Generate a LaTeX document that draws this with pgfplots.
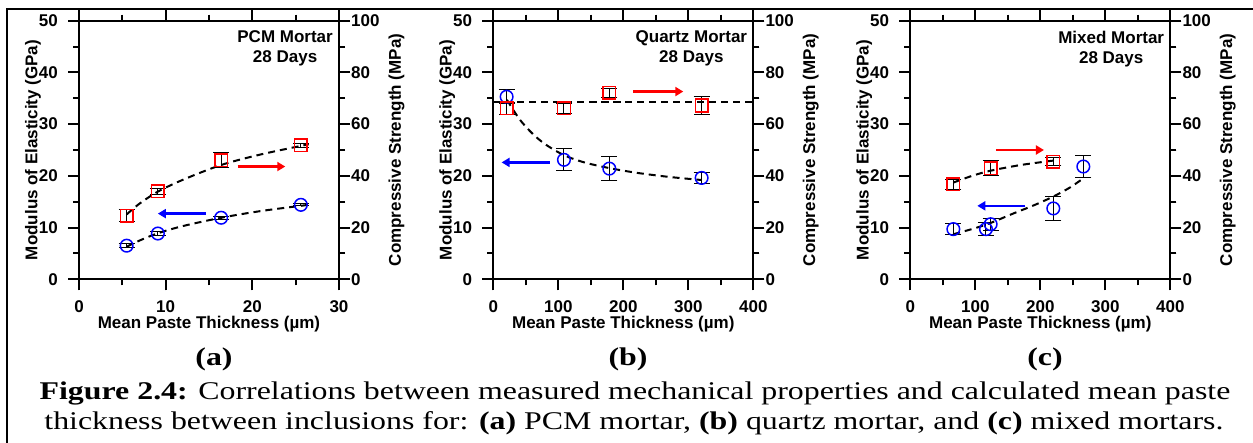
\documentclass[border=0pt]{standalone}
\usepackage{fontspec}
\setmainfont{Liberation Sans}
\newfontfamily\capfont{Liberation Serif}
\usepackage{graphicx}
\usepackage{pgfplots}
\usepackage{pgfplotstable}
\pgfplotsset{compat=1.18}
\usetikzlibrary{arrows.meta}

\definecolor{mblue}{RGB}{0,0,255}
\definecolor{mred}{RGB}{255,0,0}
\newcommand\notefont{\fontsize{17}{20}\selectfont\bfseries}
\newcommand\capsize{\fontsize{25.5}{30}\selectfont}
% caption text is set wide
\newcommand\wide[1]{\scalebox{1.25}[1]{#1}}

% ---- measured data: x = mean paste thickness (um), y = value, e = error ----
\pgfplotstableread{
x     y     e
5.5   6.5   0.4
9.1   8.85  0.3
16.4  11.9  0.3
25.6  14.4  0.2
}\modA
\pgfplotstableread{
x     y     e
5.5   24.6  2.2
9.1   34.0  1.3
16.4  46.1  2.9
25.6  51.8  0.8
}\compA
\pgfplotstableread{
x      y     e
20.5   35.3  1.35
108.7  23.1  2.15
178.5  21.4  2.25
320.5  19.6  1.1
}\modB
\pgfplotstableread{
x      y     e
20.5   66.1  2.3
108.7  66.1  1.9
178.5  72.1  1.7
320.5  67.2  3.3
}\compB
\pgfplotstableread{
x      y     e
66.2   9.7   1.1
116.4  9.7   1.3
123.6  10.65 1.15
220.0  13.7  2.25
266.2  21.8  2.1
}\modC
\pgfplotstableread{
x      y     e
66.2   36.8  1.9
123.6  43.0  2.9
220.0  45.5  1.6
}\compC

\tikzset{
  pointer/.style={line width=2.5pt, -{Triangle[length=8pt,width=9pt]}},
}

\pgfplotsset{
  panel/.style={
    scale only axis, width=260pt, height=258.6pt, anchor=south west,
    axis line style={line width=2pt},
    every tick/.append style={black, line width=2pt},
    tick align=outside,
    major tick length=11pt, minor tick length=6pt,
    /pgf/number format/assume math mode=true,
    tick label style={font=\fontsize{17}{19}\selectfont\bfseries, inner sep=2pt},
    label style={font=\fontsize{17}{19}\selectfont\bfseries},
    ymin=0, ymax=50, ytick={0,10,...,50}, minor y tick num=1,
  },
  leftpanel/.style={
    panel,
    xlabel={Mean Paste Thickness (µm)},
    ylabel={Modulus of Elasticity (GPa)},
    xlabel style={at={(axis description cs:0.5,-0.174)}, anchor=center},
    ylabel style={at={(axis description cs:-0.177,0.5)}, anchor=center},
    xticklabel style={yshift=-8pt},
    yticklabel style={xshift=-8pt},
  },
  rightpanel/.style={
    panel, hide x axis, axis y line*=right,
    ymin=0, ymax=100, ytick={0,20,...,100}, minor y tick num=1,
    ylabel={Compressive Strength (MPa)},
    ylabel style={at={(axis description cs:1.221,0.5)}, anchor=center},
    yticklabel style={xshift=-1pt},
  },
  modmarks/.style={only marks, mark=o, mark size=6.3pt, mblue,
    mark options={line width=1.5pt},
    error bars/.cd, y dir=both, y explicit,
    error bar style={black, line width=1pt},
    error mark options={rotate=90, mark size=8pt, black, line width=1pt}},
  compmarks/.style={only marks, mark=square, mark size=6.3pt, mred,
    mark options={line width=1.5pt},
    error bars/.cd, y dir=both, y explicit,
    error bar style={black, line width=1pt},
    error mark options={rotate=90, mark size=8pt, black, line width=1pt}},
  fitline/.style={black, line width=2pt, dash pattern=on 7pt off 5pt, smooth, no markers},
}

\begin{document}
\begin{tikzpicture}
\useasboundingbox (0,0) rectangle (1253pt,443pt);
\draw[line width=1.5pt] (7pt,0) -- (7pt,434pt) -- (1253pt,434pt);

% ---------------- (a) PCM mortar ----------------
\begin{axis}[leftpanel, at={(79pt,163.7pt)}, xmin=0, xmax=30,
  xtick={0,10,20,30}, minor x tick num=1]
  \addplot[modmarks] table[x=x, y=y, y error=e] {\modA};
  \addplot[fitline] coordinates {(5.5,6.3) (7,7.5) (9.1,8.9) (12,10.3) (16.4,11.9) (21,13.2) (26.5,14.4)};
  \draw[mblue, pointer] (axis cs:14.6,12.7) -- (axis cs:9.1,12.7);
  \draw[mred, pointer] (axis cs:18.3,21.8) -- (axis cs:23.8,21.8);
  \node[anchor=north east, align=center, inner sep=0pt, font=\notefont]
    at ([xshift=-6pt, yshift=-10pt]rel axis cs:1,1) {PCM Mortar\\28 Days};
\end{axis}
\begin{axis}[rightpanel, at={(79pt,163.7pt)}, xmin=0, xmax=30]
  \addplot[compmarks] table[x=x, y=y, y error=e] {\compA};
  \addplot[fitline] coordinates {(5.5,25.1) (7,29.3) (9.1,33.9) (12,38.5) (16.4,44.2) (21,48.3) (26.5,52.2)};
\end{axis}

% ---------------- (b) quartz mortar ----------------
\begin{axis}[leftpanel, at={(493.3pt,163.7pt)}, xmin=0, xmax=400,
  xtick={0,100,...,400}, minor x tick num=1]
  \addplot[modmarks] table[x=x, y=y, y error=e] {\modB};
  \addplot[fitline] coordinates {(21,34.7) (40,31.0) (60,28.2) (80,26.1) (108.7,24.0) (140,22.6) (178.5,21.5) (220,20.6) (270,19.8) (320,19.2)};
  \draw[mblue, pointer] (axis cs:87.2,22.6) -- (axis cs:12.8,22.6);
  \draw[mred, pointer] (axis cs:215.4,36.3) -- (axis cs:292.3,36.3);
  \node[anchor=north east, align=center, inner sep=0pt, font=\notefont]
    at ([xshift=-6pt, yshift=-10pt]rel axis cs:1,1) {Quartz Mortar\\28 Days};
\end{axis}
\begin{axis}[rightpanel, at={(493.3pt,163.7pt)}, xmin=0, xmax=400]
  \addplot[compmarks] table[x=x, y=y, y error=e] {\compB};
  \addplot[fitline] coordinates {(0,68.7) (400,68.7)};
\end{axis}

% ---------------- (c) mixed mortar ----------------
\begin{axis}[leftpanel, at={(910.3pt,163.7pt)}, xmin=0, xmax=400,
  xtick={0,100,...,400}, minor x tick num=1]
  \addplot[modmarks] table[x=x, y=y, y error=e] {\modC};
  \addplot[fitline] coordinates {(66,8.7) (100,9.9) (123.6,10.9) (160,12.8) (190,14.3) (220,16.0) (245,17.7) (266,19.5)};
  \draw[mblue, pointer] (axis cs:176.9,14.2) -- (axis cs:103.1,14.2);
  \draw[mred, pointer] (axis cs:131.8,25.0) -- (axis cs:205.6,25.0);
  \node[anchor=north east, align=center, inner sep=0pt, font=\notefont]
    at ([xshift=-6pt, yshift=-10pt]rel axis cs:1,1) {Mixed Mortar\\28 Days};
\end{axis}
\begin{axis}[rightpanel, at={(910.3pt,163.7pt)}, xmin=0, xmax=400]
  \addplot[compmarks] table[x=x, y=y, y error=e] {\compC};
  \addplot[fitline] coordinates {(66.2,37.4) (95,40.0) (123.6,42.0) (170,44.2) (220,45.9)};
\end{axis}

% ---------------- sub-figure letters and caption ----------------
\begin{scope}[every node/.style={anchor=base}]
\node[font=\capfont\bfseries\capsize] at (214pt,77pt) {\wide{(a)}};
\node[font=\capfont\bfseries\capsize] at (628pt,77pt) {\wide{(b)}};
\node[font=\capfont\bfseries\capsize] at (1045pt,77pt) {\wide{(c)}};
\node[font=\capfont\capsize] at (635pt,43pt)
  {\wide{\textbf{Figure 2.4:} Correlations between measured mechanical properties and calculated mean paste}};
\node[font=\capfont\capsize] at (634pt,13pt)
  {\wide{thickness between inclusions for: \textbf{(a)} PCM mortar, \textbf{(b)} quartz mortar, and \textbf{(c)} mixed mortars.}};
\end{scope}
\end{tikzpicture}
\end{document}
